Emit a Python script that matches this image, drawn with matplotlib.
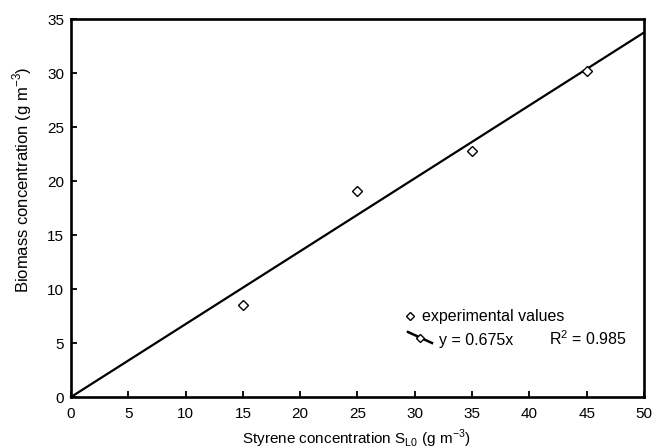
import matplotlib
matplotlib.use("Agg")
import matplotlib.pyplot as plt
from matplotlib.lines import Line2D

plt.rcParams['font.family'] = ['Liberation Sans', 'DejaVu Sans']
plt.rcParams['mathtext.fontset'] = 'custom'
plt.rcParams['mathtext.rm'] = 'Liberation Sans'

x_exp = [15, 25, 35, 45]
y_exp = [8.5, 19.1, 22.8, 30.2]
slope = 0.675
r2 = 0.985
x_fit = [0, 50]
xticks = [0, 5, 10, 15, 20, 25, 30, 35, 40, 45, 50]
yticks = [0, 5, 10, 15, 20, 25, 30, 35]
legend_labels = ['experimental values', 'y = 0.675x', 'R$^\\mathregular{2}$ = 0.985']

W, H = 662, 448
def fx(px):
    return px / W
def fy(py):
    return 1 - py / H

fig = plt.figure(figsize=(6.62, 4.48), dpi=100)
L, R, T, B = 71, 644, 19, 397
ax = fig.add_axes([fx(L), fy(B), (R - L) / W, (B - T) / H])

yf = [slope * v for v in x_fit]
ax.plot(x_fit, yf, color='black', lw=1.6, clip_on=False)
ax.plot(x_exp, y_exp, linestyle='none', marker='D', markersize=5,
        markerfacecolor='white', markeredgecolor='black', markeredgewidth=1.0)

ax.set_xlim(0, 50)
ax.set_ylim(0, 35)
ax.set_xticks(xticks)
ax.set_yticks(yticks)
ax.tick_params(direction='in', length=4, width=1.3, labelsize=11)
ax.tick_params(axis='x', pad=7.5)
ax.tick_params(axis='y', pad=5)
for s in ax.spines.values():
    s.set_linewidth(1.9)

ax.set_xlabel('Styrene concentration S$_\\mathregular{L0}$ (g m$^\\mathregular{-3}$)', fontsize=11)
ax.set_ylabel('Biomass concentration (g m$^\\mathregular{-3}$)', fontsize=12)
ax.xaxis.set_label_coords((356 - L) / (R - L), (B - 428) / (B - T))
ax.yaxis.set_label_coords((34 - L) / (R - L), (B - 180) / (B - T))

# legend (drawn manually to match the reference layout)
fig.add_artist(Line2D([fx(410)], [fy(316)], marker='D', markersize=3.8, linestyle='none',
                      markerfacecolor='white', markeredgecolor='black', markeredgewidth=1.0,
                      transform=fig.transFigure))
fig.text(fx(422), fy(321), legend_labels[0], fontsize=11.5, va='baseline', ha='left')
fig.add_artist(Line2D([fx(408), fx(432)], [fy(332), fy(343)], color='black', lw=1.8,
                      transform=fig.transFigure))
fig.add_artist(Line2D([fx(420)], [fy(337.5)], marker='D', markersize=3.8, linestyle='none',
                      markerfacecolor='white', markeredgecolor='black', markeredgewidth=1.0,
                      transform=fig.transFigure))
fig.text(fx(439), fy(345), legend_labels[1], fontsize=11.5, va='baseline', ha='left')
fig.text(fx(549), fy(345), legend_labels[2], fontsize=11.5, va='baseline', ha='left')

fig.savefig('out.png', dpi=100)
